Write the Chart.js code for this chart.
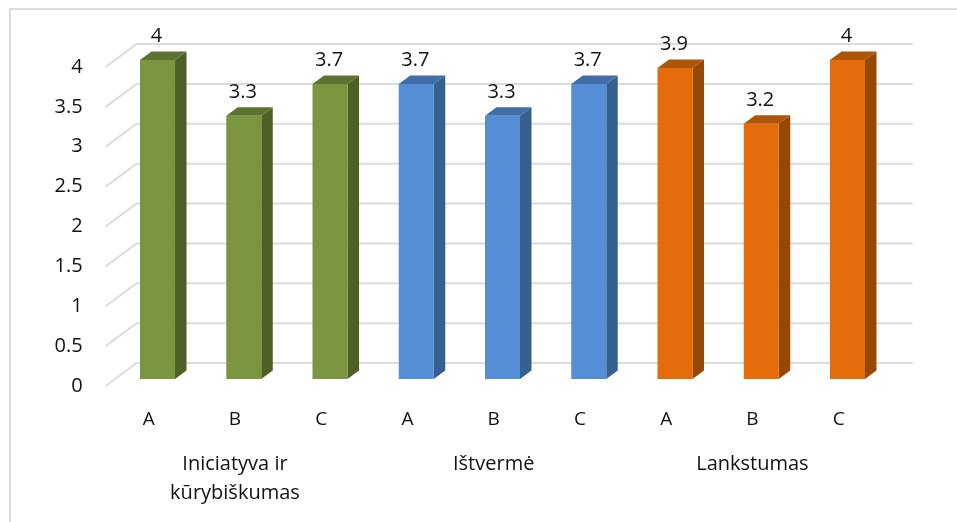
<!DOCTYPE html>
<html>
<head>
<meta charset="utf-8">
<script src="https://cdn.jsdelivr.net/npm/chart.js@4/dist/chart.umd.min.js"></script>
<style>
    body { margin: 0; background: #fff; }
    #wrap { position: relative; width: 957px; height: 522px; overflow: hidden; }
    #frame { position: absolute; left: 9px; top: 8px; width: 960px; height: 530px; border: 2px solid #dcdcdc; }
    canvas { position: absolute; left: 0; top: 0; }
</style>
</head>
<body>
<div id="wrap">
    <div id="frame"></div>
    <canvas id="skillChart" width="957" height="522"></canvas>
</div>
<script>
const letters = ['A', 'B', 'C', 'A', 'B', 'C', 'A', 'B', 'C'];
const groups = [['Iniciatyva ir', 'kūrybiškumas'], 'Ištvermė', 'Lankstumas'];
const scores = [4, 3.3, 3.7, 3.7, 3.3, 3.7, 3.9, 3.2, 4];
const yTicks = [0, 0.5, 1, 1.5, 2, 2.5, 3, 3.5, 4];

const green = { front: '#7a953d', side: '#4f6027', top: '#5c7230' };
const blue = { front: '#558ed5', side: '#35608f', top: '#3f6ea8' };
const orange = { front: '#e46c0a', side: '#964807', top: '#ad5509' };
const barColors = [green, green, green, blue, blue, blue, orange, orange, orange];

const FONT = '"Open Sans", sans-serif';

// oblique depth of the floor and of the bars
const floorDx = 31, floorDy = 23;
const barShiftX = 8.8, barShiftY = 7;
const barDx = 11.5, barDy = 8.5;

const box3d = {
    id: 'box3d',
    beforeDatasetsDraw(chart) {
        const ctx = chart.ctx;
        const y = chart.scales.y;
        const x0 = chart.chartArea.left;
        const x1 = chart.chartArea.right;

        // grid lines: short diagonal on the side wall, long line on the back wall
        ctx.save();
        ctx.strokeStyle = '#dcdcdc';
        ctx.lineWidth = 2;
        yTicks.forEach((t) => {
            const py = y.getPixelForValue(t);
            ctx.beginPath();
            ctx.moveTo(x0, py);
            ctx.lineTo(x0 + floorDx, py - floorDy);
            ctx.lineTo(x1 + floorDx, py - floorDy);
            ctx.stroke();
        });
        ctx.restore();

        // bars stand a little behind the front of the floor
        ctx.save();
        ctx.translate(barShiftX, -barShiftY);

        chart.getDatasetMeta(0).data.forEach((bar, i) => {
            const right = bar.x + bar.width / 2;
            const left = bar.x - bar.width / 2;
            ctx.fillStyle = barColors[i].side;
            ctx.beginPath();
            ctx.moveTo(right, bar.y);
            ctx.lineTo(right + barDx, bar.y - barDy);
            ctx.lineTo(right + barDx, bar.base - barDy);
            ctx.lineTo(right, bar.base);
            ctx.closePath();
            ctx.fill();

            ctx.fillStyle = barColors[i].top;
            ctx.beginPath();
            ctx.moveTo(left, bar.y);
            ctx.lineTo(left + barDx, bar.y - barDy);
            ctx.lineTo(right + barDx, bar.y - barDy);
            ctx.lineTo(right, bar.y);
            ctx.closePath();
            ctx.fill();
        });
    },
    afterDatasetsDraw(chart) {
        const ctx = chart.ctx;
        ctx.restore();

        // value labels above each bar
        ctx.save();
        ctx.font = '20px ' + FONT;
        ctx.fillStyle = '#111';
        ctx.textAlign = 'center';
        ctx.textBaseline = 'middle';
        chart.getDatasetMeta(0).data.forEach((bar, i) => {
            ctx.fillText(String(scores[i]), bar.x + barShiftX - 1, bar.y - barShiftY - 24);
        });
        ctx.restore();
    }
};

new Chart(document.getElementById('skillChart'), {
    type: 'bar',
    data: {
        labels: letters,
        datasets: [{
            data: scores,
            backgroundColor: barColors.map((c) => c.front),
            barPercentage: 1,
            categoryPercentage: 0.406,
            clip: false
        }]
    },
    options: {
        responsive: false,
        animation: false,
        layout: { padding: { top: 67, right: 75.2, left: 0, bottom: 0 } },
        plugins: { legend: { display: false }, tooltip: { enabled: false } },
        scales: {
            y: {
                min: 0,
                max: 4,
                afterBuildTicks(axis) { axis.ticks = yTicks.map((v) => ({ value: v })); },
                afterFit(axis) { axis.width = 105.6; },
                grid: { display: false },
                border: { display: false },
                ticks: {
                    padding: 15,
                    color: '#111',
                    font: { family: FONT, size: 20 },
                    callback: (v) => String(v)
                }
            },
            x: {
                weight: 0,
                afterFit(axis) { axis.height = 56; },
                grid: { display: false },
                border: { display: false },
                ticks: { padding: 14, maxRotation: 0, autoSkip: false, color: '#111', font: { family: FONT, size: 19 } }
            },
            groups: {
                type: 'category',
                position: 'bottom',
                axis: 'x',
                weight: 1,
                labels: groups,
                afterFit(axis) { axis.height = 80; },
                grid: { display: false },
                border: { display: false },
                ticks: { padding: 0, maxRotation: 0, autoSkip: false, color: '#111', font: { family: FONT, size: 20, lineHeight: 1.45 } }
            }
        }
    },
    plugins: [box3d]
});
</script>
</body>
</html>
